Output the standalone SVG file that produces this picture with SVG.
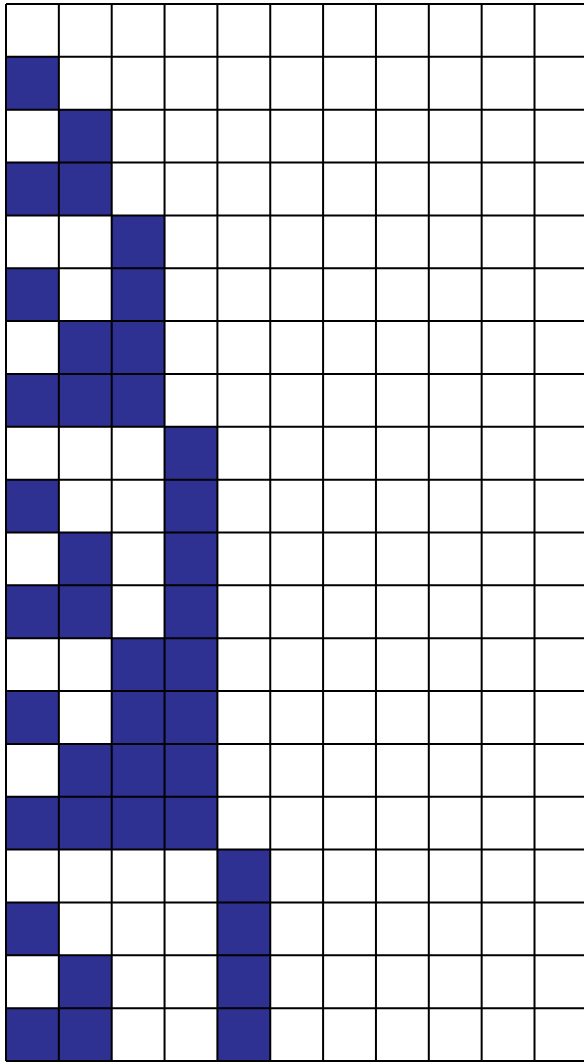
<svg xmlns="http://www.w3.org/2000/svg" xmlns:xlink="http://www.w3.org/1999/xlink" width="584" height="1062" viewBox="0 0 584 1062">
<defs>
<style>
.on{fill:#2E3192}
.grid{stroke:#000;stroke-width:2;fill:none}
</style>
<rect id="c" class="on" width="52.85" height="52.85"/>
</defs>
<rect width="584" height="1062" fill="#fff"/>
<g id="cells">
<use xlink:href="#c" x="6" y="56.85"/>
<use xlink:href="#c" x="58.85" y="109.7"/>
<use xlink:href="#c" x="6" y="162.55"/><use xlink:href="#c" x="58.85" y="162.55"/>
<use xlink:href="#c" x="111.7" y="215.4"/>
<use xlink:href="#c" x="6" y="268.25"/><use xlink:href="#c" x="111.7" y="268.25"/>
<use xlink:href="#c" x="58.85" y="321.1"/><use xlink:href="#c" x="111.7" y="321.1"/>
<use xlink:href="#c" x="6" y="373.95"/><use xlink:href="#c" x="58.85" y="373.95"/><use xlink:href="#c" x="111.7" y="373.95"/>
<use xlink:href="#c" x="164.55" y="426.8"/>
<use xlink:href="#c" x="6" y="479.65"/><use xlink:href="#c" x="164.55" y="479.65"/>
<use xlink:href="#c" x="58.85" y="532.5"/><use xlink:href="#c" x="164.55" y="532.5"/>
<use xlink:href="#c" x="6" y="585.35"/><use xlink:href="#c" x="58.85" y="585.35"/><use xlink:href="#c" x="164.55" y="585.35"/>
<use xlink:href="#c" x="111.7" y="638.2"/><use xlink:href="#c" x="164.55" y="638.2"/>
<use xlink:href="#c" x="6" y="691.05"/><use xlink:href="#c" x="111.7" y="691.05"/><use xlink:href="#c" x="164.55" y="691.05"/>
<use xlink:href="#c" x="58.85" y="743.9"/><use xlink:href="#c" x="111.7" y="743.9"/><use xlink:href="#c" x="164.55" y="743.9"/>
<use xlink:href="#c" x="6" y="796.75"/><use xlink:href="#c" x="58.85" y="796.75"/><use xlink:href="#c" x="111.7" y="796.75"/><use xlink:href="#c" x="164.55" y="796.75"/>
<use xlink:href="#c" x="217.4" y="849.6"/>
<use xlink:href="#c" x="6" y="902.45"/><use xlink:href="#c" x="217.4" y="902.45"/>
<use xlink:href="#c" x="58.85" y="955.3"/><use xlink:href="#c" x="217.4" y="955.3"/>
<use xlink:href="#c" x="6" y="1008.15"/><use xlink:href="#c" x="58.85" y="1008.15"/><use xlink:href="#c" x="217.4" y="1008.15"/>
</g>
<g id="grid" class="grid">
<path d="M6 4V1061M58.85 4V1061M111.7 4V1061M164.55 4V1061M217.4 4V1061M270.25 4V1061M323.1 4V1061M375.95 4V1061M428.8 4V1061M481.65 4V1061M534.5 4V1061"/>
<path d="M6 4H590M6 56.85H590M6 109.7H590M6 162.55H590M6 215.4H590M6 268.25H590M6 321.1H590M6 373.95H590M6 426.8H590M6 479.65H590M6 532.5H590M6 585.35H590M6 638.2H590M6 691.05H590M6 743.9H590M6 796.75H590M6 849.6H590M6 902.45H590M6 955.3H590M6 1008.15H590M6 1061H590"/>
</g>
</svg>
